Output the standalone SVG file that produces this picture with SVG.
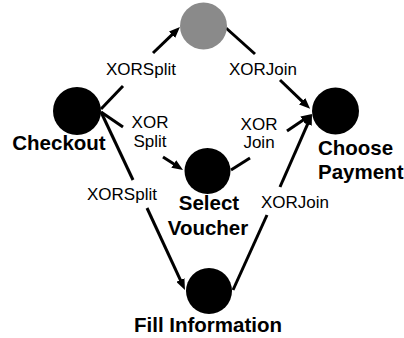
<svg xmlns="http://www.w3.org/2000/svg" width="404" height="338" viewBox="0 0 404 338">
  <defs>
    <marker id="arrow" markerUnits="userSpaceOnUse" markerWidth="11" markerHeight="9" refX="3" refY="4.5" orient="auto">
      <path d="M0,0 L11,4.5 L0,9 z" fill="#000"/>
    </marker>
    <style>
      .node { fill: #000; }
      .node.alt { fill: #8a8a8a; }
      .name { font-family: "Liberation Sans", Arial, sans-serif; font-weight: bold; font-size: 20.5px; fill: #000; text-anchor: middle; }
      .name.left { text-anchor: start; }
      .lbl { font-family: "Liberation Sans", Arial, sans-serif; font-size: 17px; fill: #000; text-anchor: middle; }
      .edge line { stroke: #000; stroke-width: 3; fill: none; }
      .edge line.head { marker-end: url(#arrow); }
    </style>
  </defs>
  <rect width="404" height="338" fill="#fff"/>

  <g id="connectors" class="edge">
    <!-- Checkout to upper alternative -->
    <line x1="101" y1="109" x2="123" y2="86"/>
    <line class="head" x1="153" y1="53" x2="174.2" y2="32.6"/>
    <!-- upper alternative to Choose Payment -->
    <line x1="226" y1="28" x2="255" y2="54"/>
    <line class="head" x1="280" y1="80" x2="304.3" y2="103.3"/>
    <!-- Checkout to Select Voucher -->
    <line x1="101" y1="112" x2="123" y2="127"/>
    <line class="head" x1="163" y1="157" x2="176.3" y2="165.6"/>
    <!-- Select Voucher to Choose Payment -->
    <line x1="231" y1="170" x2="250" y2="158"/>
    <line class="head" x1="287" y1="131" x2="305.4" y2="118.5"/>
    <!-- Checkout to Fill Information -->
    <line x1="101" y1="112" x2="133" y2="180"/>
    <line class="head" x1="147" y1="208" x2="181.6" y2="282.7"/>
    <!-- Fill Information to Choose Payment -->
    <line x1="233" y1="290" x2="267" y2="215"/>
    <line class="head" x1="280" y1="187" x2="308.8" y2="121.3"/>
  </g>

  <g id="labels">
    <text class="lbl" x="141" y="75">XORSplit</text>
    <text class="lbl" x="263" y="75">XORJoin</text>
    <text class="lbl" x="150" y="128">XOR</text>
    <text class="lbl" x="150" y="147">Split</text>
    <text class="lbl" x="259" y="130">XOR</text>
    <text class="lbl" x="259" y="148">Join</text>
    <text class="lbl" x="122" y="200">XORSplit</text>
    <text class="lbl" x="295" y="208">XORJoin</text>
  </g>

  <g id="alt-step">
    <circle class="node alt" cx="203.5" cy="26" r="23.5"/>
  </g>
  <g id="checkout">
    <circle class="node" cx="77" cy="111" r="24"/>
    <text class="name" x="59" y="150">Checkout</text>
  </g>
  <g id="choose-payment">
    <circle class="node" cx="335.5" cy="111" r="23.5"/>
    <text class="name left" x="318" y="155">Choose</text>
    <text class="name left" x="318" y="179">Payment</text>
  </g>
  <g id="select-voucher">
    <circle class="node" cx="207.5" cy="171" r="23"/>
    <text class="name" x="209" y="210">Select</text>
    <text class="name" x="208" y="235">Voucher</text>
  </g>
  <g id="fill-information">
    <circle class="node" cx="209" cy="291" r="23"/>
    <text class="name" x="208" y="332">Fill Information</text>
  </g>
</svg>
